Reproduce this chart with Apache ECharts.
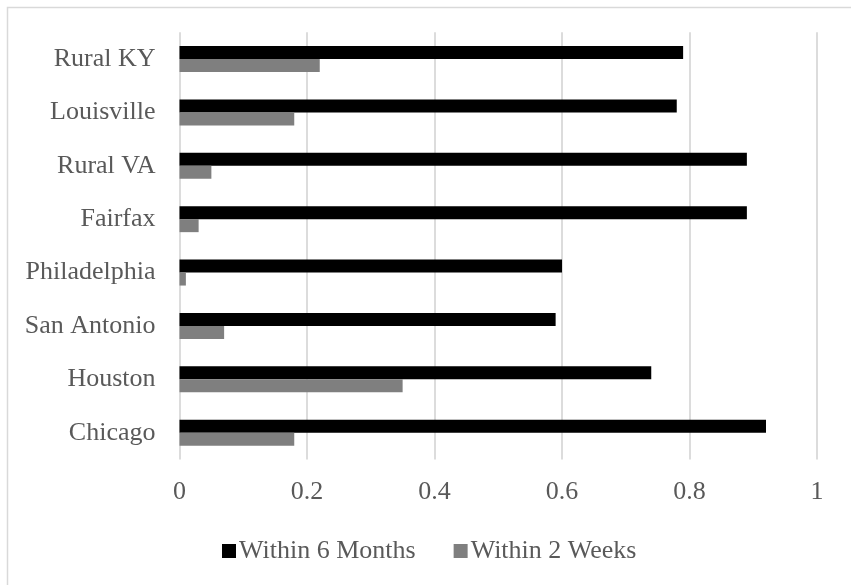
<!DOCTYPE html>
<html>
<head>
<meta charset="utf-8">
<script src="https://cdn.jsdelivr.net/npm/echarts@6/dist/echarts.min.js"></script>
<style>
html,body{margin:0;padding:0;background:#fff;}
#chart{width:851px;height:585px;}
</style>
</head>
<body>
<div id="chart"></div>
<script>
const categories = ['Chicago', 'Houston', 'San Antonio', 'Philadelphia', 'Fairfax', 'Rural VA', 'Louisville', 'Rural KY'];
const within6Months = [0.92, 0.74, 0.59, 0.60, 0.89, 0.89, 0.78, 0.79];
const within2Weeks = [0.18, 0.35, 0.07, 0.01, 0.03, 0.05, 0.18, 0.22];
const xTicks = { min: 0, max: 1, interval: 0.2 };

const FONT = 'Liberation Serif';
const TEXT = '#595959';

const chart = echarts.init(document.getElementById('chart'), null, { renderer: 'canvas' });
chart.setOption({
  animation: false,
  backgroundColor: '#ffffff',
  graphic: [{
    type: 'rect',
    left: 5, top: 5,
    shape: { width: 900, height: 700 },
    style: { fill: 'none', stroke: '#d9d9d9', lineWidth: 1.5 },
    silent: true
  }],
  grid: { left: 179.5, right: 34, top: 32.3, bottom: 125.6, containLabel: false },
  legend: {
    left: 217, top: 533,
    itemWidth: 14, itemHeight: 14, itemGap: 38,
    icon: 'rect',
    textStyle: { fontFamily: FONT, fontSize: 26, color: TEXT, padding: [0, 0, 0, -2] },
    data: ['Within 6 Months', 'Within 2 Weeks']
  },
  xAxis: {
    type: 'value',
    min: xTicks.min, max: xTicks.max, interval: xTicks.interval,
    axisLine: { show: false },
    axisTick: { show: false },
    axisLabel: { fontFamily: FONT, fontSize: 26, color: TEXT, margin: 20 },
    splitLine: { show: true, lineStyle: { color: '#dcdcdc', width: 2 } }
  },
  yAxis: {
    type: 'category',
    data: categories,
    axisLine: { show: false },
    axisTick: { show: false },
    axisLabel: { fontFamily: FONT, fontSize: 26, color: TEXT, margin: 24 },
    splitLine: { show: false }
  },
  series: [
    {
      name: 'Within 6 Months', type: 'bar', data: within6Months,
      barWidth: 13, barGap: '0%',
      itemStyle: { color: '#000000' }
    },
    {
      name: 'Within 2 Weeks', type: 'bar', data: within2Weeks,
      barWidth: 13, barGap: '0%',
      itemStyle: { color: '#7f7f7f' }
    }
  ]
});
</script>
</body>
</html>
